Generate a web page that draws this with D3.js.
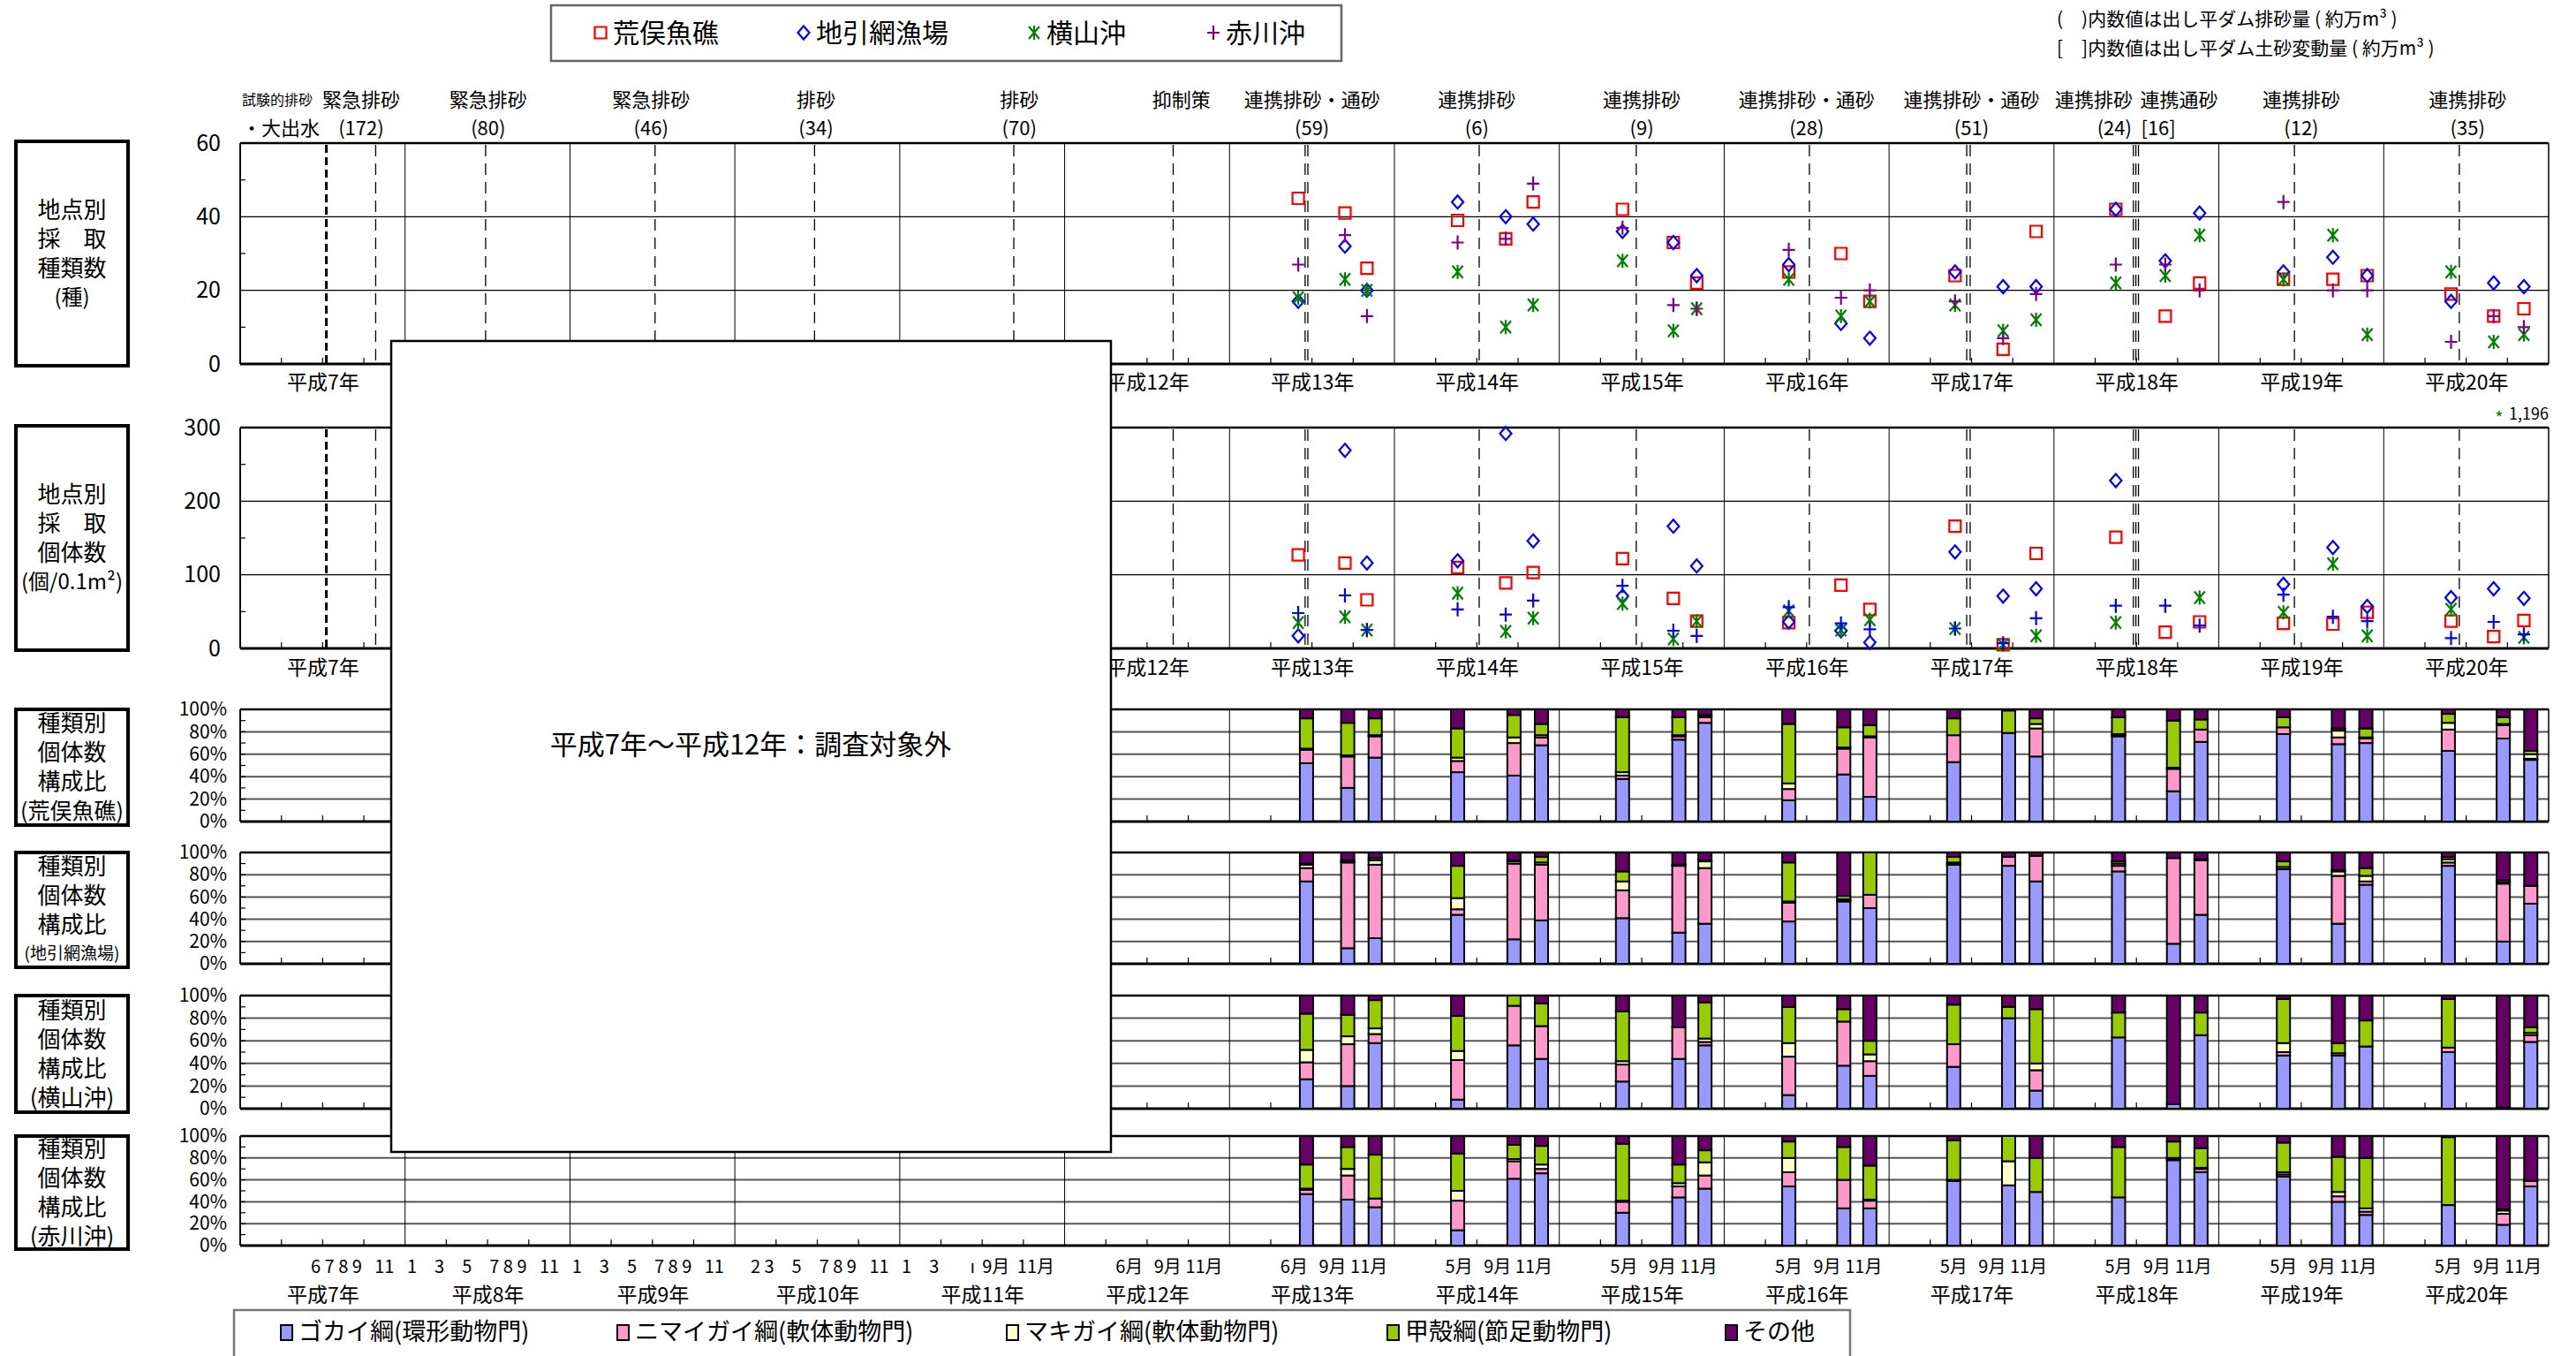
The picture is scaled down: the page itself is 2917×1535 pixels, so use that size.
<!DOCTYPE html>
<html lang="ja">
<head>
<meta charset="utf-8">
<script src="https://cdn.jsdelivr.net/npm/d3@7"></script>
<style>
  body { margin: 0; background: #fff; }
  svg { display: block; }
</style>
</head>
<body>
<svg id="chart"></svg>
<script>
// ── Data ──────────────────────────────────────────────────────────────────────
const yearLabels = ['平成7年', '平成8年', '平成9年', '平成10年', '平成11年', '平成12年', '平成13年',
  '平成14年', '平成15年', '平成16年', '平成17年', '平成18年', '平成19年', '平成20年'];

const stationNames = ['荒俣魚礁', '地引網漁場', '横山沖', '赤川沖'];
const classNames = ['ゴカイ綱(環形動物門)', 'ニマイガイ綱(軟体動物門)', 'マキガイ綱(軟体動物門)', '甲殻綱(節足動物門)', 'その他'];

// survey dates, months counted from 平成7年1月 (H13 6/9/11月, H14–H20 5/9/11月)
const pointMonths = [77.0, 80.4, 82.0, 88.6, 92.1, 94.1, 100.6, 104.3, 106.0, 112.7, 116.5, 118.6,
  124.8, 128.3, 130.7, 136.5, 140.1, 142.6, 148.7, 152.3, 154.8, 160.9, 164.0, 166.2];
const barMonths = [77.6, 80.6, 82.6, 88.6, 92.7, 94.7, 100.6, 104.7, 106.6, 112.7, 116.7, 118.6,
  124.7, 128.7, 130.7, 136.7, 140.7, 142.7, 148.7, 152.7, 154.7, 160.7, 164.7, 166.7];

// 地点別採取種類数 (種)
const speciesAra     = [45, 41, 26, 39, 34, 44, 42, 33, 22, 25, 30, 17, 24, 4, 36, 42, 13, 22, 23, 23, 24, 19, 13, 15];
const speciesJibiki  = [17, 32, 20, 44, 40, 38, 36, 33, 24, 27, 11, 7, 25, 21, 21, 42, 28, 41, 25, 29, 24, 17, 22, 21];
const speciesYoko    = [18, 23, 20, 25, 10, 16, 28, 9, 15, 23, 13, 17, 16, 9, 12, 22, 24, 35, 23, 35, 8, 25, 6, 8];
const speciesAka     = [27, 35, 13, 33, 34, 49, 37, 16, 15, 31, 18, 20, 17, 7, 19, 27, 27, 20, 44, 20, 20, 6, 13, 10];

// 地点別採取個体数 (個/0.1m2)
const indivAra    = [127, 116, 66, 110, 89, 103, 122, 68, 37, 35, 86, 53, 166, 5, 129, 151, 22, 36, 34, 33, 49, 37, 16, 38];
const indivJibiki = [17, 269, 116, 119, 292, 146, 71, 166, 112, 36, 24, 8, 131, 71, 81, 228, null, null, 87, 137, 57, 69, 81, 68];
const indivYoko   = [35, 43, 25, 75, 23, 41, 61, 13, 37, 51, 25, 39, 27, 5, 17, 35, null, 69, 49, 115, 17, 53, 1196, 15];
const indivAka    = [48, 72, 25, 53, 46, 65, 85, 24, 17, 56, 34, 26, 27, 7, 41, 58, 58, 31, 73, 43, 37, 14, 36, 19];

// 種類別個体数構成比 (%) : ゴカイ綱, ニマイガイ綱, マキガイ綱, 甲殻綱, その他
const compAra = [
  [52, 12, 1, 27, 8], [30, 28, 1, 29, 12], [57, 19, 1, 15, 8],
  [44, 10, 3, 26, 17], [41, 29, 5, 20, 5], [68, 7, 2, 10, 13],
  [38, 3, 3, 49, 7], [73, 3, 1, 16, 7], [88, 5, 1, 1, 5],
  [19, 10, 5, 53, 13], [42, 23, 1, 18, 16], [22, 53, 1, 10, 14],
  [53, 24, 0, 15, 8], [79, 0, 0, 20, 1], [58, 25, 4, 5, 8],
  [76, 1, 1, 15, 7], [27, 20, 1, 42, 10], [71, 11, 0, 9, 9],
  [78, 6, 0, 9, 7], [69, 6, 6, 2, 17], [70, 4, 1, 8, 17],
  [63, 19, 6, 8, 4], [74, 12, 1, 6, 7], [55, 1, 4, 3, 37]
];
const compJibiki = [
  [74, 12, 3, 1, 10], [14, 77, 1, 1, 7], [23, 66, 4, 2, 5],
  [44, 5, 10, 29, 12], [22, 68, 2, 1, 7], [39, 50, 2, 5, 4],
  [41, 25, 8, 9, 17], [28, 60, 1, 0, 11], [36, 50, 6, 1, 7],
  [38, 17, 1, 35, 9], [56, 1, 1, 3, 39], [50, 12, 0, 38, 0],
  [89, 1, 1, 5, 4], [88, 8, 0, 0, 4], [74, 23, 0, 0, 3],
  [83, 5, 2, 2, 8], [18, 77, 0, 0, 5], [44, 49, 1, 0, 6],
  [85, 0, 2, 5, 8], [36, 43, 4, 1, 16], [71, 3, 5, 7, 14],
  [88, 3, 3, 2, 4], [20, 52, 1, 2, 25], [54, 16, 0, 0, 30]
];
const compYoko = [
  [26, 15, 11, 32, 16], [20, 37, 7, 19, 17], [58, 8, 5, 25, 4],
  [8, 35, 8, 31, 18], [56, 35, 0, 9, 0], [44, 29, 0, 20, 7],
  [24, 15, 3, 44, 14], [44, 28, 0, 0, 28], [56, 3, 3, 32, 6],
  [12, 34, 12, 32, 10], [38, 39, 0, 11, 12], [29, 13, 6, 12, 40],
  [37, 20, 0, 35, 8], [80, 0, 0, 10, 10], [16, 18, 6, 48, 12],
  [63, 0, 0, 22, 15], [4, 0, 0, 0, 96], [65, 0, 0, 20, 15],
  [47, 3, 8, 39, 3], [47, 2, 0, 9, 42], [55, 0, 0, 23, 22],
  [50, 4, 0, 43, 3], [1, 0, 0, 0, 99], [59, 6, 2, 5, 28]
];
const compAka = [
  [47, 4, 1, 22, 26], [42, 22, 6, 20, 10], [35, 8, 0, 40, 17],
  [14, 27, 9, 34, 16], [61, 16, 2, 13, 8], [66, 4, 4, 17, 9],
  [30, 10, 1, 52, 7], [44, 10, 3, 17, 26], [52, 12, 12, 11, 13],
  [54, 13, 13, 15, 5], [34, 26, 0, 30, 10], [34, 7, 1, 31, 27],
  [59, 0, 1, 36, 4], [55, 0, 22, 23, 0], [49, 0, 0, 31, 20],
  [44, 0, 0, 46, 10], [78, 1, 1, 15, 5], [67, 3, 1, 18, 11],
  [63, 2, 2, 27, 6], [40, 5, 4, 32, 19], [28, 3, 3, 46, 20],
  [37, 0, 0, 62, 1], [19, 10, 3, 1, 67], [54, 5, 0, 0, 41]
];

// 出し平ダム 排砂・通砂 (months from 平成7年1月)
const flushMonths = [9.86, 17.86, 30.19, 41.8, 56.3, 67.9, 77.5, 77.7, 90.17, 101.6, 114.2,
  125.65, 125.9, 137.78, 137.96, 138.15, 149.5, 161.5];
const floodMonth = 6.27;

// header: [line 1, line 2, month of line 1, month of line 2]
const eventLabels = [
  ['緊急排砂', '(172)', 8.8, 8.8],
  ['緊急排砂', '(80)', 18.05, 18.05],
  ['緊急排砂', '(46)', 29.9, 29.9],
  ['排砂', '(34)', 41.9, 41.9],
  ['排砂', '(70)', 56.7, 56.7],
  ['抑制策', '', 68.5, 68.5],
  ['連携排砂・通砂', '(59)', 78.0, 78.0],
  ['連携排砂', '(6)', 90.0, 90.0],
  ['連携排砂', '(9)', 102.0, 102.0],
  ['連携排砂・通砂', '(28)', 114.0, 114.0],
  ['連携排砂・通砂', '(51)', 126.0, 126.0],
  ['連携排砂', '(24)', 134.9, 136.4],
  ['連携通砂', '[16]', 141.1, 139.6],
  ['連携排砂', '(12)', 150.0, 150.0],
  ['連携排砂', '(35)', 162.1, 162.1]
];

// bottom month tick labels: [month, text]
const monthTickLabels = [
  [5.5, '6'], [6.5, '7'], [7.5, '8'], [8.5, '9'], [10.5, '11'],
  [12.5, '1'], [14.5, '3'], [16.5, '5'], [18.5, '7'], [19.5, '8'], [20.5, '9'], [22.5, '11'],
  [24.5, '1'], [26.5, '3'], [28.5, '5'], [30.5, '7'], [31.5, '8'], [32.5, '9'], [34.5, '11'],
  [37.5, '2'], [38.5, '3'], [40.5, '5'], [42.5, '7'], [43.5, '8'], [44.5, '9'], [46.5, '11'],
  [48.5, '1'], [50.5, '3'], [53.3, 'ı'], [55.0, '9月'], [57.9, '11月'],
  [64.7, '6月'], [67.5, '9月'], [70.15, '11月'],
  [76.7, '6月'], [79.5, '9月'], [82.15, '11月'],
  [88.7, '5月'], [91.5, '9月'], [94.15, '11月'],
  [100.7, '5月'], [103.5, '9月'], [106.15, '11月'],
  [112.7, '5月'], [115.5, '9月'], [118.15, '11月'],
  [124.7, '5月'], [127.5, '9月'], [130.15, '11月'],
  [136.7, '5月'], [139.5, '9月'], [142.15, '11月'],
  [148.7, '5月'], [151.5, '9月'], [154.15, '11月'],
  [160.7, '5月'], [163.5, '9月'], [166.15, '11月']
];

// ── Setup ─────────────────────────────────────────────────────────────────────
const W = 2917, H = 1535;
const FONT = "'Noto Sans CJK JP', 'Noto Sans', sans-serif";
const classColors = ['#9999ff', '#ff99cc', '#ffffcc', '#99cc00', '#660066'];
const stationMarks = [
  { shape: 'square',  color: '#ff0000' },
  { shape: 'diamond', color: '#0000ff' },
  { shape: 'star',    color: '#008000' },
  { shape: 'plus',    color: '#800080' }
];
const markerPath = {
  square:  'M-6.5,-6.5H6.5V6.5H-6.5Z',
  diamond: 'M0,-7.5L6.5,0L0,7.5L-6.5,0Z',
  star:    'M-6,-7L6,7M-6,7L6,-7M0,-8V8',
  plus:    'M-7,0H7M0,-8V8'
};

const svg = d3.select('#chart').attr('width', W).attr('height', H)
  .attr('font-family', FONT);

const x = d3.scaleLinear().domain([0, 168]).range([272, 2886]);

function txt(g, px, py, s, size, anchor = 'middle') {
  return g.append('text')
    .attr('x', px).attr('y', py)
    .attr('dy', '0.35em')
    .attr('font-size', size)
    .attr('text-anchor', anchor)
    .attr('fill', '#000')
    .text(s);
}

// ── Panel frame (grid, year dividers, quarter ticks, border) ────────────────
function drawFrame(y, gridVals, minorVals, opts) {
  const [y0, y1] = [y.range()[1], y.range()[0]];
  const g = svg.append('g');

  g.append('rect')
    .attr('x', x(0)).attr('y', y0)
    .attr('width', x(168) - x(0)).attr('height', y1 - y0)
    .attr('fill', '#fff');

  g.selectAll('.grid').data(gridVals).join('line')
    .attr('x1', x(0)).attr('x2', x(168))
    .attr('y1', d => y(d)).attr('y2', d => y(d))
    .attr('stroke', opts.gridColor).attr('stroke-width', opts.gridWidth);

  g.selectAll('.yr').data(d3.range(12, 168, 12)).join('line')
    .attr('x1', d => x(d)).attr('x2', d => x(d))
    .attr('y1', y0).attr('y2', y1)
    .attr('stroke', '#000').attr('stroke-width', 1);

  g.selectAll('.qt').data(d3.range(3, 168, 3).filter(d => d % 12)).join('line')
    .attr('x1', d => x(d)).attr('x2', d => x(d))
    .attr('y1', y1).attr('y2', y1 - 7)
    .attr('stroke', '#000').attr('stroke-width', 1.2);

  g.selectAll('.mn').data(minorVals).join('line')
    .attr('x1', x(0)).attr('x2', x(0) + 6)
    .attr('y1', d => y(d)).attr('y2', d => y(d))
    .attr('stroke', '#000').attr('stroke-width', 1.2);

  g.append('line').attr('x1', x(0)).attr('x2', x(168)).attr('y1', y0).attr('y2', y0)
    .attr('stroke', '#000').attr('stroke-width', 2.5);
  g.append('line').attr('x1', x(168)).attr('x2', x(168)).attr('y1', y0).attr('y2', y1)
    .attr('stroke', '#000').attr('stroke-width', 1.5);
  g.append('line').attr('x1', x(0)).attr('x2', x(0)).attr('y1', y0).attr('y2', y1)
    .attr('stroke', '#000').attr('stroke-width', 2);
  g.append('line').attr('x1', x(0)).attr('x2', x(168)).attr('y1', y1).attr('y2', y1)
    .attr('stroke', '#000').attr('stroke-width', 3);

  // y labels
  const ax = g.append('g')
    .attr('transform', `translate(${x(0)},0)`)
    .call(d3.axisLeft(y).tickValues(opts.ticks).tickFormat(opts.fmt).tickSize(0).tickPadding(opts.pad));
  ax.select('.domain').remove();
  ax.selectAll('text')
    .attr('font-size', opts.labelSize)
    .attr('font-family', FONT)
    .attr('fill', '#000');
  return g;
}

function yearAxis(py) {
  const ax = svg.append('g')
    .attr('transform', `translate(0,${py})`)
    .call(d3.axisBottom(x)
      .tickValues(d3.range(14).map(i => i * 12 + 6))
      .tickFormat((d, i) => yearLabels[i])
      .tickSize(0));
  ax.select('.domain').remove();
  ax.selectAll('text')
    .attr('y', 0).attr('dy', '0.35em')
    .attr('font-size', 23)
    .attr('font-family', FONT)
    .attr('fill', '#000');
}

function labelBox(top, bottom, lines, sizes) {
  const g = svg.append('g');
  g.append('rect')
    .attr('x', 18).attr('y', top)
    .attr('width', 127).attr('height', bottom - top)
    .attr('fill', '#fff').attr('stroke', '#000').attr('stroke-width', 4);
  const cy = (top + bottom) / 2;
  lines.forEach((s, i) => {
    txt(g, 81.5, cy + (i - 1.5) * 33, s, sizes[i]);
  });
}

function mark(g, shape, color, px, py) {
  g.append('path')
    .attr('d', markerPath[shape])
    .attr('transform', `translate(${px},${py})`)
    .attr('fill', 'none')
    .attr('stroke', color)
    .attr('stroke-width', 2.2);
}

// ── Scatter panels ───────────────────────────────────────────────────────────
const scatterPanels = [
  { top: 162, bottom: 412, max: 60, ticks: [0, 20, 40, 60], minor: [10, 30, 50],
    series: [speciesAra, speciesJibiki, speciesYoko, speciesAka], plusColor: '#800080', yearY: 433,
    box: ['地点別', '採　取', '種類数', '(種)'] },
  { top: 484, bottom: 734, max: 300, ticks: [0, 100, 200, 300], minor: [50, 150, 250],
    series: [indivAra, indivJibiki, indivYoko, indivAka], plusColor: '#0000ff', yearY: 756,
    box: ['地点別', '採　取', '個体数', '(個/0.1m²)'] }
];

scatterPanels.forEach(p => {
  const y = d3.scaleLinear().domain([0, p.max]).range([p.bottom, p.top]);
  const g = drawFrame(y, p.ticks.slice(1, -1), p.minor,
    { gridColor: '#000', gridWidth: 1.2, ticks: p.ticks, fmt: d3.format('d'), pad: 22, labelSize: 25 });

  // flushing events (dashed)
  g.selectAll('.ev').data(flushMonths).join('line')
    .attr('x1', d => x(d)).attr('x2', d => x(d))
    .attr('y1', p.top + 2).attr('y2', p.bottom)
    .attr('stroke', '#000').attr('stroke-width', 1.3)
    .attr('stroke-dasharray', '13 8');
  g.append('line')
    .attr('x1', x(floodMonth)).attr('x2', x(floodMonth))
    .attr('y1', p.top + 2).attr('y2', p.bottom)
    .attr('stroke', '#000').attr('stroke-width', 3)
    .attr('stroke-dasharray', '9 5');

  p.series.forEach((vals, s) => {
    const color = s === 3 ? p.plusColor : stationMarks[s].color;
    vals.forEach((v, i) => {
      if (v == null || v > p.max) return;
      mark(g, stationMarks[s].shape, color, x(pointMonths[i]), y(v));
    });
  });

  yearAxis(p.yearY);
  labelBox(p.top - 2, p.bottom + 2, p.box, [26, 26, 26, 24]);
});

// off-scale value note (横山沖 平成20年9月)
txt(svg, 2830, 474, '*', 20).attr('fill', '#008000');
txt(svg, 2886, 469, d3.format(',')(indivYoko[22]), 18, 'end');

// ── Stacked composition panels ───────────────────────────────────────────────
const stackPanels = [
  { top: 803, bottom: 930, data: compAra,    box: ['種類別', '個体数', '構成比', '(荒俣魚礁)'],  sizes: [26, 26, 26, 25] },
  { top: 965, bottom: 1091, data: compJibiki, box: ['種類別', '個体数', '構成比', '(地引網漁場)'], sizes: [26, 26, 26, 19] },
  { top: 1127, bottom: 1255, data: compYoko,  box: ['種類別', '個体数', '構成比', '(横山沖)'],    sizes: [26, 26, 26, 26] },
  { top: 1286, bottom: 1410, data: compAka,   box: ['種類別', '個体数', '構成比', '(赤川沖)'],    sizes: [26, 26, 26, 26] }
];
const keys = classNames.map((d, i) => 'c' + i);

stackPanels.forEach(p => {
  const y = d3.scaleLinear().domain([0, 1]).range([p.bottom, p.top]);
  const g = drawFrame(y, [0.2, 0.4, 0.6, 0.8], d3.range(0.1, 1, 0.1),
    { gridColor: '#555', gridWidth: 2, ticks: [0, 0.2, 0.4, 0.6, 0.8, 1], fmt: d3.format('.0%'), pad: 15, labelSize: 21 });

  const rows = p.data.map((v, i) => {
    const r = { m: barMonths[i] };
    keys.forEach((k, j) => { r[k] = v[j]; });
    return r;
  });
  const stacked = d3.stack().keys(keys).offset(d3.stackOffsetExpand)(rows);

  g.selectAll('.layer').data(stacked).join('g')
    .attr('fill', (d, i) => classColors[i])
    .selectAll('rect').data(d => d).join('rect')
    .attr('x', d => x(d.data.m) - 7.5)
    .attr('width', 15)
    .attr('y', d => y(d[1]))
    .attr('height', d => y(d[0]) - y(d[1]))
    .attr('stroke', '#000').attr('stroke-width', 2);

  labelBox(p.top, p.bottom + 4, p.box, p.sizes);
});

// bottom month + year labels
const mt = svg.append('g');
monthTickLabels.forEach(([m, s]) => txt(mt, x(m), 1434, s, 20));
yearAxis(1466);

// ── Header: events above top panel ───────────────────────────────────────────
const hd = svg.append('g');
txt(hd, 274, 113, '試験的排砂', 16, 'start');
txt(hd, 274, 145, '・大出水', 22, 'start');
eventLabels.forEach(([a, b, ma, mb]) => {
  txt(hd, x(ma), 113, a, 22);
  if (b) txt(hd, x(mb), 145, b, 22);
});

// notes (top right)
txt(hd, 2329, 22, '(　)内数値は出し平ダム排砂量 ( 約万m³ )', 21, 'start');
txt(hd, 2329, 55, '[　]内数値は出し平ダム土砂変動量 ( 約万m³ )', 21, 'start');

// ── Legends ──────────────────────────────────────────────────────────────────
const lg = svg.append('g');
lg.append('rect')
  .attr('x', 624).attr('y', 6).attr('width', 895).attr('height', 63)
  .attr('fill', '#fff').attr('stroke', '#666').attr('stroke-width', 2.5);
const legendX = [680, 910, 1171, 1374];
stationNames.forEach((s, i) => {
  mark(lg, stationMarks[i].shape, stationMarks[i].color, legendX[i], 37);
  txt(lg, legendX[i] + 14, 37, s, 30, 'start');
});

const bl = svg.append('g');
bl.append('rect')
  .attr('x', 265).attr('y', 1483).attr('width', 1830).attr('height', 70)
  .attr('fill', '#fff').attr('stroke', '#777').attr('stroke-width', 2.5);
const classLegendX = [318, 699, 1140, 1571, 1954];
classNames.forEach((s, i) => {
  bl.append('rect')
    .attr('x', classLegendX[i]).attr('y', 1500)
    .attr('width', 13).attr('height', 17)
    .attr('fill', classColors[i]).attr('stroke', '#000').attr('stroke-width', 2);
  txt(bl, classLegendX[i] + 20, 1508, s, 27, 'start');
});

// ── Not surveyed (H7–H12) ────────────────────────────────────────────────────
const ns = svg.append('g');
ns.append('rect')
  .attr('x', 443).attr('y', 386).attr('width', 815).attr('height', 918)
  .attr('fill', '#fff').attr('stroke', '#000').attr('stroke-width', 2.5);
txt(ns, 850, 843, '平成7年～平成12年：調査対象外', 31);
</script>
</body>
</html>
